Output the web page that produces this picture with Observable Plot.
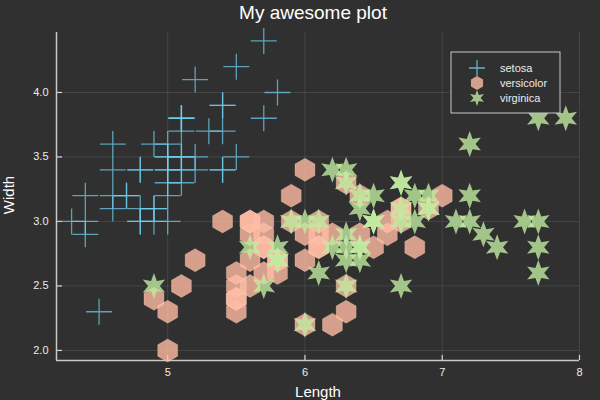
<!DOCTYPE html>
<html><head><meta charset="utf-8">
<script src="https://cdn.jsdelivr.net/npm/d3@7"></script>
<script src="https://cdn.jsdelivr.net/npm/@observablehq/plot@0.6"></script>
<style>body{margin:0;background:#303030;} #chart{width:600px;height:400px;}</style>
</head><body><div id="chart"></div>
<script>
const species = ["setosa", "versicolor", "virginica"];
const setosaLength = [5.1,4.9,4.7,4.6,5.0,5.4,4.6,5.0,4.4,4.9,5.4,4.8,4.8,4.3,5.8,5.7,5.4,5.1,5.7,5.1,5.4,5.1,4.6,5.1,4.8,5.0,5.0,5.2,5.2,4.7,4.8,5.4,5.2,5.5,4.9,5.0,5.5,4.9,4.4,5.1,5.0,4.5,4.4,5.0,5.1,4.8,5.1,4.6,5.3,5.0];
const setosaWidth  = [3.5,3.0,3.2,3.1,3.6,3.9,3.4,3.4,2.9,3.1,3.7,3.4,3.0,3.0,4.0,4.4,3.9,3.5,3.8,3.8,3.4,3.7,3.6,3.3,3.4,3.0,3.4,3.5,3.4,3.2,3.1,3.4,4.1,4.2,3.1,3.2,3.5,3.6,3.0,3.4,3.5,2.3,3.2,3.5,3.8,3.0,3.8,3.2,3.7,3.3];
const versicolorLength = [7.0,6.4,6.9,5.5,6.5,5.7,6.3,4.9,6.6,5.2,5.0,5.9,6.0,6.1,5.6,6.7,5.6,5.8,6.2,5.6,5.9,6.1,6.3,6.1,6.4,6.6,6.8,6.7,6.0,5.7,5.5,5.5,5.8,6.0,5.4,6.0,6.7,6.3,5.6,5.5,5.5,6.1,5.8,5.0,5.6,5.7,5.7,6.2,5.1,5.7];
const versicolorWidth  = [3.2,3.2,3.1,2.3,2.8,2.8,3.3,2.4,2.9,2.7,2.0,3.0,2.2,2.9,2.9,3.1,3.0,2.7,2.2,2.5,3.2,2.8,2.5,2.8,2.9,3.0,2.8,3.0,2.9,2.6,2.4,2.4,2.7,2.7,3.0,3.4,3.1,2.3,3.0,2.5,2.6,3.0,2.6,2.3,2.7,3.0,2.9,2.9,2.5,2.8];
const virginicaLength = [6.3,5.8,7.1,6.3,6.5,7.6,4.9,7.3,6.7,7.2,6.5,6.4,6.8,5.7,5.8,6.4,6.5,7.7,7.7,6.0,6.9,5.6,7.7,6.3,6.7,7.2,6.2,6.1,6.4,7.2,7.4,7.9,6.4,6.3,6.1,7.7,6.3,6.4,6.0,6.9,6.7,6.9,5.8,6.8,6.7,6.7,6.3,6.5,6.2,5.9];
const virginicaWidth  = [3.3,2.7,3.0,2.9,3.0,3.0,2.5,2.9,2.5,3.6,3.2,2.7,3.0,2.5,2.8,3.2,3.0,3.8,2.6,2.2,3.2,2.8,2.8,2.7,3.3,3.2,2.8,3.0,2.8,3.0,2.8,3.8,2.8,2.8,2.6,3.0,3.4,3.1,3.0,3.1,3.1,3.1,2.7,3.2,3.3,3.0,2.5,3.0,3.4,3.0];
const xTicks = [5, 6, 7, 8];
const yTicks = [2.0, 2.5, 3.0, 3.5, 4.0];
const titleText = "My awesome plot";
const xLabel = "Length";
const yLabel = "Width";
const colors = {setosa: "#6fd3f5", versicolor: "#ffbca3", virginica: "#c2eba0"};

const rows = (L, W) => L.map((x, i) => ({x, y: W[i]}));
const setosa = rows(setosaLength, setosaWidth);
const versicolor = rows(versicolorLength, versicolorWidth);
const virginica = rows(virginicaLength, virginicaWidth);

const plusSym = {draw(ctx, size) {const r = Math.sqrt(size / Math.PI); ctx.moveTo(-r, 0); ctx.lineTo(r, 0); ctx.moveTo(0, -r); ctx.lineTo(0, r);}};
const hexSym = {draw(ctx, size) {const r = Math.sqrt(size / Math.PI); for (let i = 0; i < 6; i++) {const a = -Math.PI / 2 + i * Math.PI / 3; i ? ctx.lineTo(r * Math.cos(a), r * Math.sin(a)) : ctx.moveTo(r * Math.cos(a), r * Math.sin(a));} ctx.closePath();}};
const starSym = {draw(ctx, size) {const r = Math.sqrt(size / Math.PI); for (let i = 0; i < 12; i++) {const a = -Math.PI / 2 + i * Math.PI / 6; const rr = i % 2 ? r * 0.45 : r; i ? ctx.lineTo(rr * Math.cos(a), rr * Math.sin(a)) : ctx.moveTo(rr * Math.cos(a), rr * Math.sin(a));} ctx.closePath();}};
const symbols = {setosa: plusSym, versicolor: hexSym, virginica: starSym};

const W = 600, H = 400, mL = 56, mR = 21, mT = 32, mB = 40;
const xDom = [4.19, 8.0], yDom = [1.922, 4.465];
const font = "'Liberation Sans', Arial, Helvetica, sans-serif";

const plot = Plot.plot({
  width: W, height: H, marginLeft: mL, marginRight: mR, marginTop: mT, marginBottom: mB,
  style: {background: "#303030", color: "#ececec", fontFamily: font, fontSize: "11px"},
  x: {domain: xDom},
  y: {domain: yDom},
  marks: [
    Plot.gridX({ticks: xTicks, stroke: "#ffffff", strokeOpacity: 0.1, strokeWidth: 1}),
    Plot.gridY({ticks: yTicks, stroke: "#ffffff", strokeOpacity: 0.1, strokeWidth: 1}),
    Plot.axisX({ticks: xTicks, tickSize: 0, tickPadding: 8, label: null, tickFormat: d3.format("d")}),
    Plot.axisY({ticks: yTicks, tickSize: 0, tickPadding: 8, label: null, tickFormat: d3.format(".1f")}),
    Plot.ruleX(xTicks, {x: d => d, insetTop: H - mT - mB - 5, stroke: "#d8d8d8", strokeWidth: 1.2}),
    Plot.ruleY(yTicks, {y: d => d, insetRight: W - mL - mR - 6, stroke: "#d8d8d8", strokeWidth: 1.2}),
    Plot.ruleX([xDom[0]], {stroke: "#c8c8c8", strokeWidth: 1.5}),
    Plot.ruleY([yDom[0]], {stroke: "#c8c8c8", strokeWidth: 1.5}),
    Plot.dot(setosa, {x: "x", y: "y", symbol: plusSym, r: 13, fill: "none", stroke: colors.setosa, strokeOpacity: 0.7, strokeWidth: 1.3}),
    Plot.dot(versicolor, {x: "x", y: "y", symbol: hexSym, r: 11.5, fill: colors.versicolor, fillOpacity: 0.8, stroke: "#ffe0d0", strokeOpacity: 0.35, strokeWidth: 0.8}),
    Plot.dot(virginica, {x: "x", y: "y", symbol: starSym, r: 13, fill: colors.virginica, fillOpacity: 0.8, stroke: "none"})
  ]
});
document.getElementById("chart").appendChild(plot);

const svg = d3.select(plot);
svg.append("text").attr("x", 313).attr("y", 19).attr("text-anchor", "middle")
  .attr("font-family", font).attr("font-size", 19).attr("fill", "#ffffff").text(titleText);
svg.append("text").attr("x", 318).attr("y", 397).attr("text-anchor", "middle")
  .attr("font-family", font).attr("font-size", 15).attr("fill", "#ffffff").text(xLabel);
svg.append("text").attr("transform", "translate(14,195) rotate(-90)").attr("text-anchor", "middle")
  .attr("font-family", font).attr("font-size", 15).attr("fill", "#ffffff").text(yLabel);

const lg = svg.append("g");
lg.append("rect").attr("x", 451).attr("y", 52).attr("width", 109).attr("height", 61)
  .attr("fill", "#303030").attr("stroke", "#c8c8c8").attr("stroke-width", 1);
const legendSizes = {setosa: 8, versicolor: 7, virginica: 8};
species.forEach((s, i) => {
  const cy = 68 + i * 15;
  const p = lg.append("path").attr("transform", `translate(477,${cy})`)
    .attr("d", d3.symbol(symbols[s], Math.PI * legendSizes[s] ** 2)());
  if (s === "setosa") p.attr("fill", "none").attr("stroke", colors[s]).attr("stroke-opacity", 0.8).attr("stroke-width", 1.3);
  else p.attr("fill", colors[s]).attr("fill-opacity", 0.8);
  lg.append("text").attr("x", 500).attr("y", cy).attr("dy", "0.35em").attr("text-anchor", "start")
    .attr("font-family", font).attr("font-size", 11).attr("fill", "#ececec").text(s);
});
</script>
</body></html>
